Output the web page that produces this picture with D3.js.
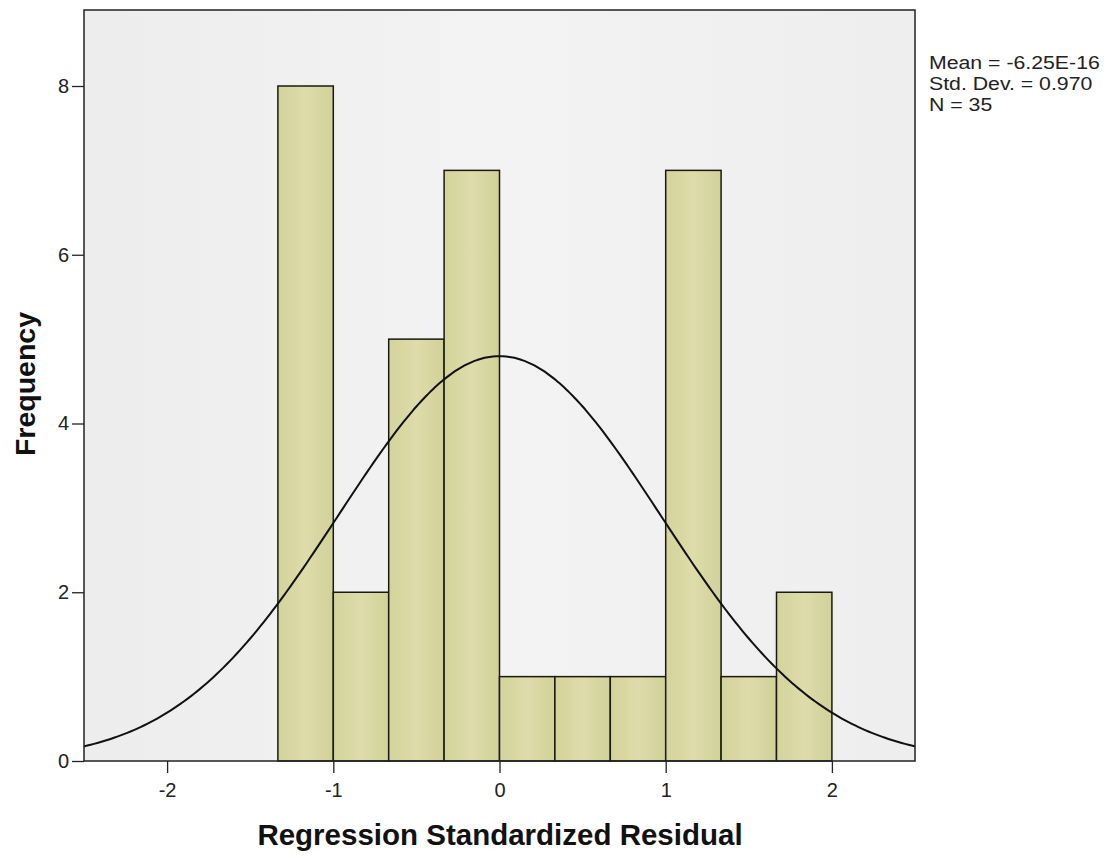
<!DOCTYPE html>
<html><head><meta charset="utf-8">
<script src="https://cdn.jsdelivr.net/npm/d3@7"></script>
<style>body{margin:0;background:#fff;} svg{display:block;font-family:"Liberation Sans",Arial,sans-serif;}</style>
</head><body>
<svg id="chart" width="1106" height="859"></svg>
<script>
// Data
const binEdges = [-4/3, -1, -2/3, -1/3, 0, 1/3, 2/3, 1, 4/3, 5/3, 2];
const counts = [8, 2, 5, 7, 1, 1, 1, 7, 1, 2];
const xTicks = [-2, -1, 0, 1, 2];
const yTicks = [0, 2, 4, 6, 8];
const statLines = ["Mean = -6.25E-16", "Std. Dev. = 0.970", "N = 35"];
const mean = -6.25e-16, sd = 0.970, n = 35, binWidth = 1/3;

const svg = d3.select("#chart");
const pLeft = 84, pRight = 915, pTop = 10, pBottom = 761;
const x = d3.scaleLinear().domain([-2.5, 2.5]).range([pLeft, pRight]);
const y = d3.scaleLinear().domain([0, 8]).range([pBottom, 86]);
const fmt = d => String(d).replace("\u2212", "-");

const defs = svg.append("defs");
const bg = defs.append("linearGradient").attr("id","bg").attr("x1","0").attr("x2","1");
bg.append("stop").attr("offset","0").attr("stop-color","#ededed");
bg.append("stop").attr("offset","0.5").attr("stop-color","#f3f3f3");
bg.append("stop").attr("offset","1").attr("stop-color","#eeeeee");
const bar = defs.append("linearGradient").attr("id","bar").attr("x1","0").attr("x2","1");
bar.append("stop").attr("offset","0").attr("stop-color","#d3d39b");
bar.append("stop").attr("offset","0.5").attr("stop-color","#dedcaa");
bar.append("stop").attr("offset","1").attr("stop-color","#d1d199");

svg.append("rect").attr("x", pLeft).attr("y", pTop).attr("width", pRight-pLeft).attr("height", pBottom-pTop).attr("fill","url(#bg)");

// bars
svg.append("g").selectAll("rect").data(counts).join("rect")
  .attr("x", (d,i) => x(binEdges[i]))
  .attr("width", (d,i) => x(binEdges[i+1]) - x(binEdges[i]))
  .attr("y", d => y(d))
  .attr("height", d => y(0) - y(d))
  .attr("fill", "url(#bar)")
  .attr("stroke", "#1a1a10").attr("stroke-width", 1.5);

// normal curve fitted from displayed statistics
const xs = d3.range(-2.5, 2.5001, 0.02);
const dens = v => n * binWidth / (sd * Math.sqrt(2*Math.PI)) * Math.exp(-0.5 * Math.pow((v-mean)/sd, 2));
svg.append("path").datum(xs)
  .attr("d", d3.line().x(v => x(v)).y(v => y(dens(v))).curve(d3.curveBasis))
  .attr("fill","none").attr("stroke","#111").attr("stroke-width",2);

// frame
svg.append("rect").attr("x", pLeft).attr("y", pTop).attr("width", pRight-pLeft).attr("height", pBottom-pTop)
  .attr("fill","none").attr("stroke","#222").attr("stroke-width",1.5);

// axes
const xAxis = svg.append("g").attr("transform", `translate(0,${pBottom})`)
  .call(d3.axisBottom(x).tickValues(xTicks).tickSize(12).tickSizeOuter(0).tickFormat(fmt));
xAxis.select(".domain").remove();
xAxis.selectAll("line").attr("stroke","#222").attr("stroke-width",1.3);
xAxis.selectAll("text").attr("font-size",20).attr("fill","#222").attr("y",36).attr("dy",0);

const yAxis = svg.append("g").attr("transform", `translate(${pLeft},0)`)
  .call(d3.axisLeft(y).tickValues(yTicks).tickSize(12).tickSizeOuter(0).tickFormat(fmt));
yAxis.select(".domain").remove();
yAxis.selectAll("line").attr("stroke","#222").attr("stroke-width",1.3);
yAxis.selectAll("text").attr("font-size",20).attr("fill","#222").attr("x",-15);

// titles
svg.append("text").attr("x", 500).attr("y", 845).attr("text-anchor","middle")
  .attr("font-size",29.5).attr("font-weight","bold").attr("fill","#111").text("Regression Standardized Residual");
svg.append("text").attr("transform","translate(35,384) rotate(-90)").attr("text-anchor","middle")
  .attr("font-size",28.5).attr("font-weight","bold").attr("fill","#111").text("Frequency");

// stats
svg.append("g").attr("transform","translate(929,0) scale(1.15,1)")
  .selectAll("text").data(statLines).join("text")
  .attr("x", 0).attr("y", (d,i) => 69 + i*21)
  .attr("font-size",18.5).attr("fill","#222").text(d => d);
</script>
</body></html>
